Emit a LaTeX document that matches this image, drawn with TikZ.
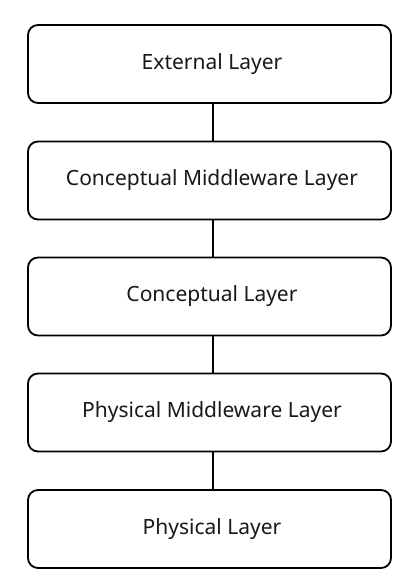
\documentclass[tikz,border=0pt]{standalone}
\usepackage{fontspec}
\setmainfont{Noto Sans}
\begin{document}
\begin{tikzpicture}[x=1pt,y=-1pt,
  layerbox/.style={draw=black, line width=1.8pt, rounded corners=10pt,
    minimum width=363pt, minimum height=78pt, inner sep=0pt,
    font=\fontsize{21}{24}\selectfont, text=black!90},
  link/.style={draw=black, line width=1.8pt}]
  \fill[white] (0,0) rectangle (392,569);
  \useasboundingbox (0,0) rectangle (392,569);
  \node[layerbox] (ext)  at (209.5,64)    {\hspace*{5pt}External Layer};
  \node[layerbox] (cmid) at (209.5,180.5) {\hspace*{5pt}Conceptual Middleware Layer};
  \node[layerbox] (con)  at (209.5,296.5) {\hspace*{5pt}Conceptual Layer};
  \node[layerbox] (pmid) at (209.5,412.5) {\hspace*{5pt}Physical Middleware Layer};
  \node[layerbox] (phy)  at (209.5,529)   {\hspace*{5pt}Physical Layer};
  \draw[link] ([xshift=3.5pt]ext.south)  -- ([xshift=3.5pt]cmid.north);
  \draw[link] ([xshift=3.5pt]cmid.south) -- ([xshift=3.5pt]con.north);
  \draw[link] ([xshift=3.5pt]con.south)  -- ([xshift=3.5pt]pmid.north);
  \draw[link] ([xshift=3.5pt]pmid.south) -- ([xshift=3.5pt]phy.north);
\end{tikzpicture}
\end{document}
